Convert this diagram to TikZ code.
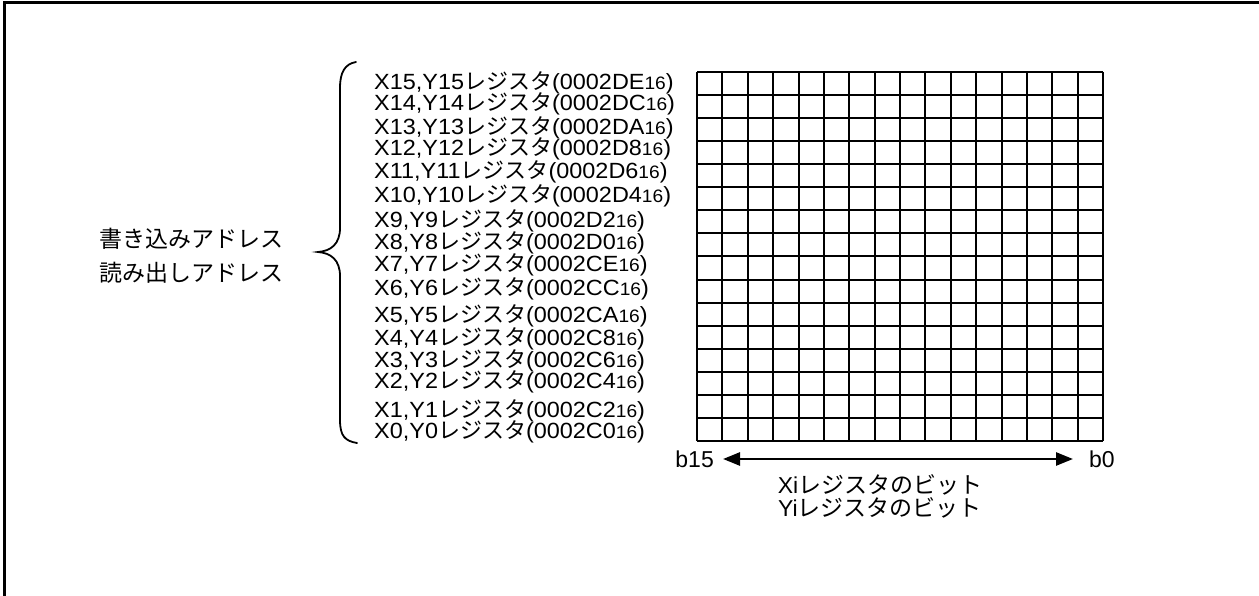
\documentclass[tikz,border=0pt]{standalone}
\usepackage{fontspec}
\setmainfont{Liberation Sans}
\newfontfamily\labfont{Liberation Sans}[FakeStretch=1.065]
\newfontfamily\jp{Noto Sans CJK JP}
\usetikzlibrary{arrows.meta}
\newcommand{\reglab}[2]{#1{\jp レジスタ}(#2{\fontsize{18}{19}\selectfont 16})}
\tikzset{
  lab/.style={anchor=base west, inner sep=0pt, font=\labfont\fontsize{22}{26}\selectfont},
  txt/.style={inner sep=0pt, font=\fontsize{23}{26}\selectfont},
  gridline/.style={line width=2pt},
  bracel/.style={line width=1.8pt, line cap=round},
  bitarrow/.style={line width=2.6pt, {Triangle[length=17pt,width=13pt]}-{Triangle[length=17pt,width=13pt]}},
}
\begin{document}
\begin{tikzpicture}[x=1pt,y=-1pt]
\useasboundingbox (0,0) rectangle (1259,596);
% frame (only top and left visible)
\draw[line width=2.5pt] (4.5,600) -- (4.5,2.5) -- (1265,2.5);
% grid
\foreach \i in {0,...,16} {
  \draw[gridline] ({697+\i*25.375},72) -- ({697+\i*25.375},441);
  \draw[gridline] (697,{72+\i*23.0625}) -- (1103,{72+\i*23.0625});
}
% register labels
\node[lab] (r15) at (374,90) {\reglab{X15,Y15}{0002DE}};
\node[lab] (r14) at (374,110.5) {\reglab{X14,Y14}{0002DC}};
\node[lab] (r13) at (374,134.5) {\reglab{X13,Y13}{0002DA}};
\node[lab] (r12) at (374,156) {\reglab{X12,Y12}{0002D8}};
\node[lab] (r11) at (374,179) {\reglab{X11,Y11}{0002D6}};
\node[lab] (r10) at (374,203) {\reglab{X10,Y10}{0002D4}};
\node[lab] (r9) at (374,227.5) {\reglab{X9,Y9}{0002D2}};
\node[lab] (r8) at (374,250) {\reglab{X8,Y8}{0002D0}};
\node[lab] (r7) at (374,272) {\reglab{X7,Y7}{0002CE}};
\node[lab] (r6) at (374,295) {\reglab{X6,Y6}{0002CC}};
\node[lab] (r5) at (374,322) {\reglab{X5,Y5}{0002CA}};
\node[lab] (r4) at (374,345) {\reglab{X4,Y4}{0002C8}};
\node[lab] (r3) at (374,367) {\reglab{X3,Y3}{0002C6}};
\node[lab] (r2) at (374,388.5) {\reglab{X2,Y2}{0002C4}};
\node[lab] (r1) at (374,417) {\reglab{X1,Y1}{0002C2}};
\node[lab] (r0) at (374,438.5) {\reglab{X0,Y0}{0002C0}};
% brace
\draw[bracel] (356,62) .. controls (345,64) and (340,72) .. (340,88)
  -- (340,228) .. controls (340,244) and (331,251) .. (318,252)
  .. controls (331,253) and (340,260) .. (340,276)
  -- (340,420) .. controls (340,436) and (345,441) .. (357,443);
% left texts
\node[txt, anchor=west] (wa) at (99,239) {\jp 書き込みアドレス};
\node[txt, anchor=west] (ra) at (99,273) {\jp 読み出しアドレス};
% bit arrow
\node[txt, anchor=east] (b15) at (714,459) {b15};
\node[txt, anchor=west] (b0) at (1089,459) {b0};
\draw[bitarrow] ([xshift=9pt]b15.east) -- ([xshift=-16pt]b0.west);
\node[txt] (xi) at (880,485) {Xi{\jp レジスタのビット}};
\node[txt] (yi) at (880,508) {Yi{\jp レジスタのビット}};
\end{tikzpicture}
\end{document}
